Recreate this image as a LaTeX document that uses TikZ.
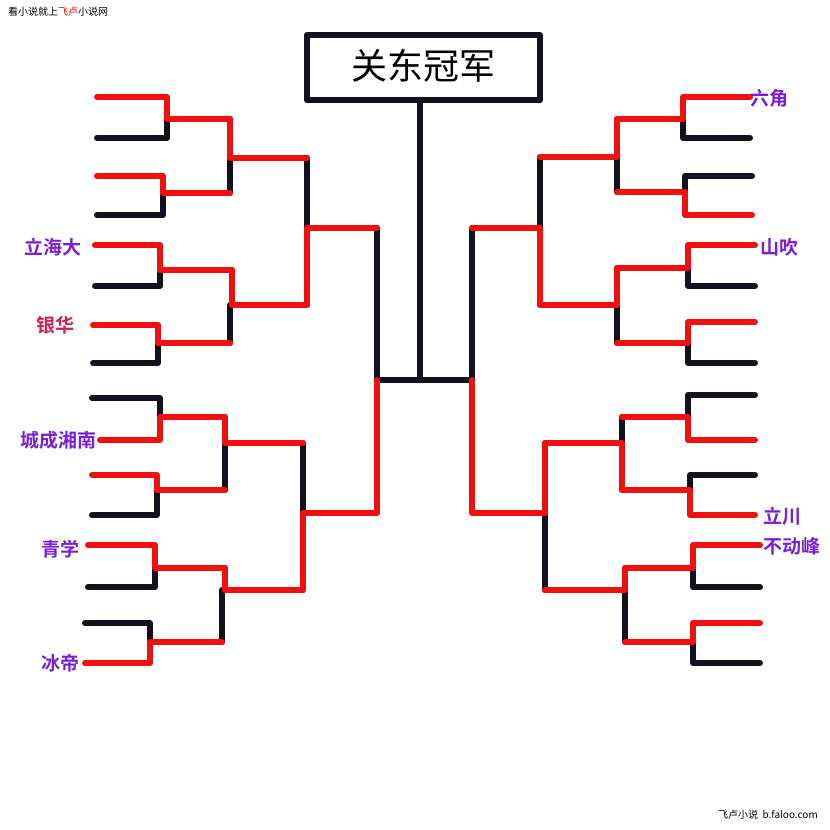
\documentclass[tikz,border=0pt]{standalone}
\usepackage{fontspec}
\newfontfamily\cjk{Noto Sans CJK SC}
\newfontfamily\cjkb{Noto Sans CJK SC Bold}
\definecolor{bred}{HTML}{F01010}
\definecolor{bblk}{HTML}{14101E}
\definecolor{tpur}{HTML}{7A1FD8}
\definecolor{tcrm}{HTML}{D0204F}
\begin{document}
\begin{tikzpicture}[x=1pt,y=-1pt,
  bk/.style={draw=bblk,line width=6pt,line join=round,line cap=round},
  rd/.style={draw=bred,line width=6pt,line join=round,line cap=round},
  lab/.style={font=\cjkb\fontsize{19}{19}\selectfont,text=tpur,inner sep=0pt}]
\useasboundingbox[fill=white] (0,0) rectangle (830,830);
% ---- black lines
\draw[bk] (97,138)--(167,138)--(167,119);
\draw[bk] (97,215)--(163,215)--(163,193);
\draw[bk] (230,158)--(230,193);
\draw[bk] (95,286)--(160,286)--(160,270);
\draw[bk] (93,363)--(158,363)--(158,343);
\draw[bk] (230,305)--(230,343);
\draw[bk] (307,158)--(307,228);
\draw[bk] (377,228)--(377,380)--(420,380);
\draw[bk] (92,398)--(160,398)--(160,417);
\draw[bk] (92,515)--(157,515)--(157,490);
\draw[bk] (225,443)--(225,490);
\draw[bk] (88,587)--(155,587)--(155,568);
\draw[bk] (85,623)--(150,623)--(150,642);
\draw[bk] (222,590)--(222,642);
\draw[bk] (303,443)--(303,513);
\draw[bk] (420,100)--(420,380)--(472,380);
\draw[bk,line cap=butt] (307,35) rectangle (540,100);
\draw[bk] (750,138)--(683,138)--(683,119);
\draw[bk] (752,176)--(685,176)--(685,192);
\draw[bk] (617,157)--(617,192);
\draw[bk] (755,286)--(688,286)--(688,268);
\draw[bk] (755,363)--(688,363)--(688,343);
\draw[bk] (617,305)--(617,343);
\draw[bk] (540,157)--(540,228);
\draw[bk] (472,228)--(472,380);
\draw[bk] (755,395)--(688,395)--(688,417);
\draw[bk] (755,475)--(690,475)--(690,490);
\draw[bk] (622,417)--(622,443);
\draw[bk] (760,587)--(693,587)--(693,568);
\draw[bk] (760,663)--(693,663)--(693,642);
\draw[bk] (625,590)--(625,642);
\draw[bk] (545,513)--(545,590);
% ---- red lines
\draw[rd] (97,97)--(167,97)--(167,119)--(230,119);
\draw[rd] (97,176)--(163,176)--(163,193)--(230,193);
\draw[rd] (230,119)--(230,158)--(307,158);
\draw[rd] (95,245)--(160,245)--(160,270)--(232,270);
\draw[rd] (93,325)--(158,325)--(158,343)--(230,343);
\draw[rd] (232,270)--(232,305)--(307,305);
\draw[rd] (307,305)--(307,228)--(377,228);
\draw[rd] (100,440)--(160,440)--(160,417)--(225,417);
\draw[rd] (92,475)--(157,475)--(157,490)--(225,490);
\draw[rd] (225,417)--(225,443)--(303,443);
\draw[rd] (88,545)--(155,545)--(155,568)--(225,568);
\draw[rd] (85,663)--(150,663)--(150,642)--(222,642);
\draw[rd] (225,568)--(225,590)--(303,590);
\draw[rd] (303,590)--(303,513)--(377,513)--(377,380);
\draw[rd] (750,97)--(683,97)--(683,119)--(617,119);
\draw[rd] (752,215)--(685,215)--(685,192)--(617,192);
\draw[rd] (617,119)--(617,157)--(540,157);
\draw[rd] (755,245)--(688,245)--(688,268)--(617,268);
\draw[rd] (755,322)--(688,322)--(688,343)--(617,343);
\draw[rd] (617,268)--(617,305)--(540,305);
\draw[rd] (540,305)--(540,228)--(472,228);
\draw[rd] (755,440)--(688,440)--(688,417)--(622,417);
\draw[rd] (755,515)--(690,515)--(690,490)--(622,490);
\draw[rd] (622,490)--(622,443)--(545,443);
\draw[rd] (760,545)--(693,545)--(693,568)--(625,568);
\draw[rd] (760,623)--(693,623)--(693,642)--(625,642);
\draw[rd] (625,568)--(625,590)--(545,590);
\draw[rd] (545,443)--(545,513)--(472,513)--(472,380);
% ---- texts
\node[font=\cjk\fontsize{36}{36}\selectfont,inner sep=0pt] (title) at (423,66) {关东冠军};
\node[lab,anchor=east] (l1) at (82,247) {立海大};
\node[lab,anchor=east,text=tcrm] (l2) at (75,325) {银华};
\node[lab,anchor=east] (l3) at (97,440) {城成湘南};
\node[lab,anchor=east] (l4) at (80,549) {青学};
\node[lab,anchor=east] (l5) at (80,663) {冰帝};
\node[lab,anchor=west] (r1) at (750,98) {六角};
\node[lab,anchor=west] (r2) at (760,247) {山吹};
\node[lab,anchor=west] (r3) at (763,516) {立川};
\node[lab,anchor=west] (r4) at (763,546) {不动峰};
\node[anchor=west,inner sep=0pt,font=\cjk\fontsize{10}{10}\selectfont] (wm) at (8,12) {看小说就上\textcolor{red}{飞卢}小说网};
\node[anchor=east,inner sep=0pt,font=\cjk\fontsize{10}{10}\selectfont] (wm2) at (818,815) {飞卢小说\ \ b.faloo.com};
\end{tikzpicture}
\end{document}
